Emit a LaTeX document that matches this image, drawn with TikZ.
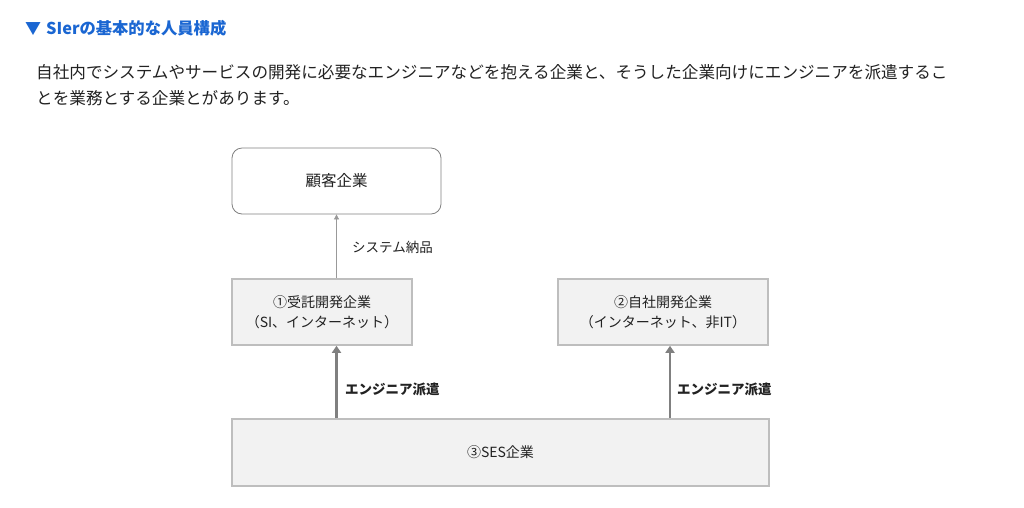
\documentclass[tikz,border=0pt]{standalone}
\usepackage{fontspec}
\setmainfont{Noto Sans CJK JP}
\usetikzlibrary{arrows.meta}
\definecolor{headblue}{RGB}{26,102,210}
\definecolor{boxline}{RGB}{190,190,190}
\definecolor{boxfill}{RGB}{242,242,242}
\definecolor{arrowgray}{RGB}{128,128,128}
\definecolor{bodytext}{RGB}{34,34,34}
\begin{document}
\begin{tikzpicture}[x=1pt,y=-1pt,
  txt/.style={inner sep=0pt,anchor=base west,text=bodytext},
  client/.style={draw=arrowgray,line width=0.8pt,rounded corners=10pt,fill=white,font=\fontsize{15.5}{17}\selectfont,text=bodytext},
  company/.style={draw=boxline,line width=1.6pt,fill=boxfill,align=center,font=\fontsize{14}{20}\selectfont,text=bodytext},
  thin arrow/.style={draw=arrowgray!80,line width=0.8pt,-{Triangle[length=5pt,width=5pt]}},
  thick arrow/.style={draw=arrowgray,line width=2.6pt,-{Triangle[length=7pt,width=9pt]}},
  lbl/.style={inner sep=0pt,anchor=west,text=bodytext,font=\fontsize{13.5}{16}\selectfont}]
\useasboundingbox[fill=white] (0,0) rectangle (1024,507);
% heading and text
\node[txt,text=headblue,font=\fontsize{16.3}{18}\bfseries\selectfont] (title) at (25,34) {{\fontsize{16}{18}\selectfont▼}\hspace{5pt}SIerの基本的な人員構成};
\node[txt,font=\fontsize{16.6}{20}\selectfont] (line1) at (36,78) {自社内でシステムやサービスの開発に必要なエンジニアなどを抱える企業と、そうした企業向けにエンジニアを派遣するこ};
\node[txt,font=\fontsize{16.6}{20}\selectfont] (line2) at (36,104) {とを業務とする企業とがあります。};
% boxes
\node[client,minimum width=209pt,minimum height=66pt] (client) at (336.5,181) {顧客企業};
\node[company,minimum width=180pt,minimum height=66pt] (contract) at (322,312) {①受託開発企業\\（SI、インターネット）};
\node[company,minimum width=210pt,minimum height=66pt] (inhouse) at (663,312) {②自社開発企業\\（インターネット、非IT）};
\node[company,minimum width=537pt,minimum height=67pt] (ses) at (500.5,452.5) {③SES企業};
% arrows
\draw[thin arrow] (contract.north -| client.south) -- (client.south);
\draw[thick arrow] (ses.north -| client.south) -- (contract.south -| client.south);
\draw[thick arrow] ([xshift=7pt]inhouse.south |- ses.north) -- ([xshift=7pt]inhouse.south);
% labels
\node[lbl] (deliver) at (352,247) {システム納品};
\node[lbl,font=\fontsize{13.5}{16}\bfseries\selectfont] (dispatch1) at (345,389) {エンジニア派遣};
\node[lbl,font=\fontsize{13.5}{16}\bfseries\selectfont] (dispatch2) at (677,389) {エンジニア派遣};
\end{tikzpicture}
\end{document}
